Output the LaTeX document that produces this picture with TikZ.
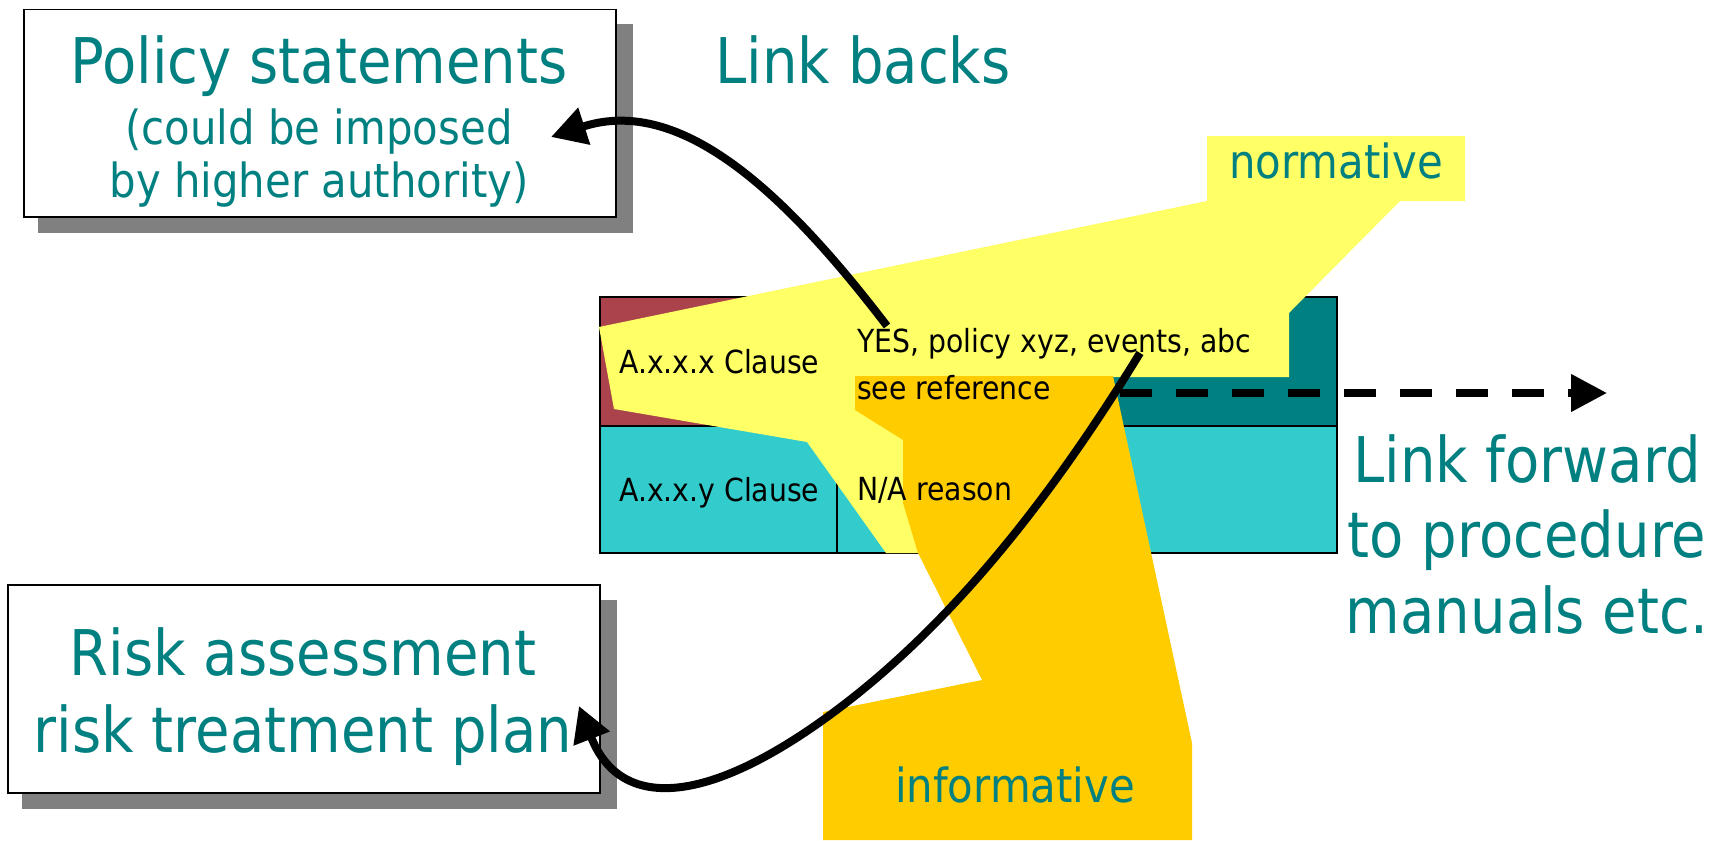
\documentclass[tikz,border=0pt]{standalone}
\usepackage{fontspec}
\setmainfont{DejaVu Sans}[FakeStretch=0.89]
\usetikzlibrary{arrows.meta}

\definecolor{tealtxt}{RGB}{0,128,128}
\definecolor{tealdark}{RGB}{0,128,128}
\definecolor{cyanrow}{RGB}{51,204,204}
\definecolor{redcell}{RGB}{170,67,75}
\definecolor{calloutyellow}{RGB}{255,255,102}
\definecolor{calloutorange}{RGB}{255,204,0}
\definecolor{shadowgray}{RGB}{128,128,128}

\tikzset{
  whitebox/.style={draw=black, line width=1.5pt, fill=white, anchor=north west, inner sep=0pt},
  boxshadow/.style={fill=shadowgray, draw=none, anchor=north west, inner sep=0pt},
  cell/.style={draw=black, line width=2pt, anchor=north west, inner sep=0pt},
  bigtext/.style={text=tealtxt, anchor=base, inner sep=0pt, font=\fontsize{63}{75}\selectfont},
  midtext/.style={text=tealtxt, anchor=base, inner sep=0pt, font=\fontsize{47}{56}\selectfont},
  celltext/.style={text=black, anchor=base west, inner sep=0pt, font=\fontsize{31.8}{38}\selectfont},
  linkarrow/.style={draw=black, line width=8pt, -{Triangle[length=35pt, width=37pt]}},
  forwardarrow/.style={draw=black, line width=7.5pt, dash pattern=on 32pt off 24pt,
    -{Triangle[length=36pt, width=36pt]}},
}

\begin{document}
\begin{tikzpicture}[x=1pt, y=-1pt]
\path[use as bounding box, fill=white] (0,0) rectangle (1720,840);

% ---- policy statements box ----
\node[boxshadow, minimum width=595pt, minimum height=209pt] (policyshadow) at (38,24) {};
\node[whitebox, minimum width=592pt, minimum height=207pt] (policy) at (23,9) {};
\node[bigtext] (policyt1) at (319,84) {Policy statements};
\node[midtext] (policyt2) at (319,144) {(could be imposed};
\node[midtext] (policyt3) at (319,197) {by higher authority)};

% ---- risk assessment box ----
\node[boxshadow, minimum width=595pt, minimum height=209pt] (riskshadow) at (22,600) {};
\node[whitebox, minimum width=592pt, minimum height=208pt] (risk) at (7,584) {};
\node[bigtext] (riskt1) at (303,675) {Risk assessment};
\node[bigtext] (riskt2) at (303,752) {risk treatment plan};

% ---- heading texts ----
\node[bigtext] (linkbacks) at (863,84) {Link backs};
\node[bigtext] (fwd1) at (1527,482) {Link forward};
\node[bigtext] (fwd2) at (1527,557) {to procedure};
\node[bigtext] (fwd3) at (1527,633) {manuals etc.};

% ---- statement of applicability table ----
\node[cell, fill=redcell, minimum width=237pt, minimum height=129pt] (cellxl) at (599,296) {};
\node[cell, fill=tealdark, minimum width=500pt, minimum height=129pt] (cellxr) at (836,296) {};
\node[cell, fill=cyanrow, minimum width=237pt, minimum height=127pt] (cellyl) at (599,425) {};
\node[cell, fill=cyanrow, minimum width=500pt, minimum height=127pt] (cellyr) at (836,425) {};

% ---- normative callout ----
\fill[calloutyellow] (1207,136) -- (1465,136) -- (1465,201) -- (1400,201)
  -- (1289,313) -- (1289,377) -- (1113,377) -- (918,553) -- (886,553)
  -- (807,442) -- (614,409) -- (599,327) -- (1207,201) -- cycle;
\node[midtext] (normative) at (1336,178) {normative};

% ---- informative callout ----
\fill[calloutorange] (855,376) -- (1113,376) -- (1192,743) -- (1192,840)
  -- (823,840) -- (823,712) -- (982,680) -- (918,553) -- (903,503)
  -- (903,440) -- (855,410) -- cycle;
\node[midtext] (informative) at (1015,802) {informative};

% ---- table texts ----
\node[celltext] (clausex) at (619,373) {A.x.x.x Clause};
\node[celltext] (clausey) at (619,501) {A.x.x.y Clause};
\node[celltext] (yes) at (857,352) {YES, policy xyz, events, abc};
\node[celltext] (seeref) at (857,399) {see reference};
\node[celltext] (nareason) at (857,500) {N/A reason};

% ---- link forward ----
\coordinate (fwdstart) at (1120,393);
\coordinate (fwdend) at (1607,393);
\draw[forwardarrow] (fwdstart) -- (fwdend);

% ---- link backs ----
\coordinate (yesref) at (887,326);
\coordinate (policytip) at (551,137);
\draw[linkarrow] (yesref) .. controls (784,191) and (680,95) .. (policytip);

\coordinate (eventsref) at (1140,353);
\coordinate (riskbend) at (823,720);
\coordinate (risktip) at (579,706);
\draw[linkarrow] (eventsref) .. controls (1056.3,489.3) and (953.2,627) .. (riskbend)
  .. controls (700.9,807.2) and (619,808.4) .. (risktip);
\end{tikzpicture}
\end{document}
